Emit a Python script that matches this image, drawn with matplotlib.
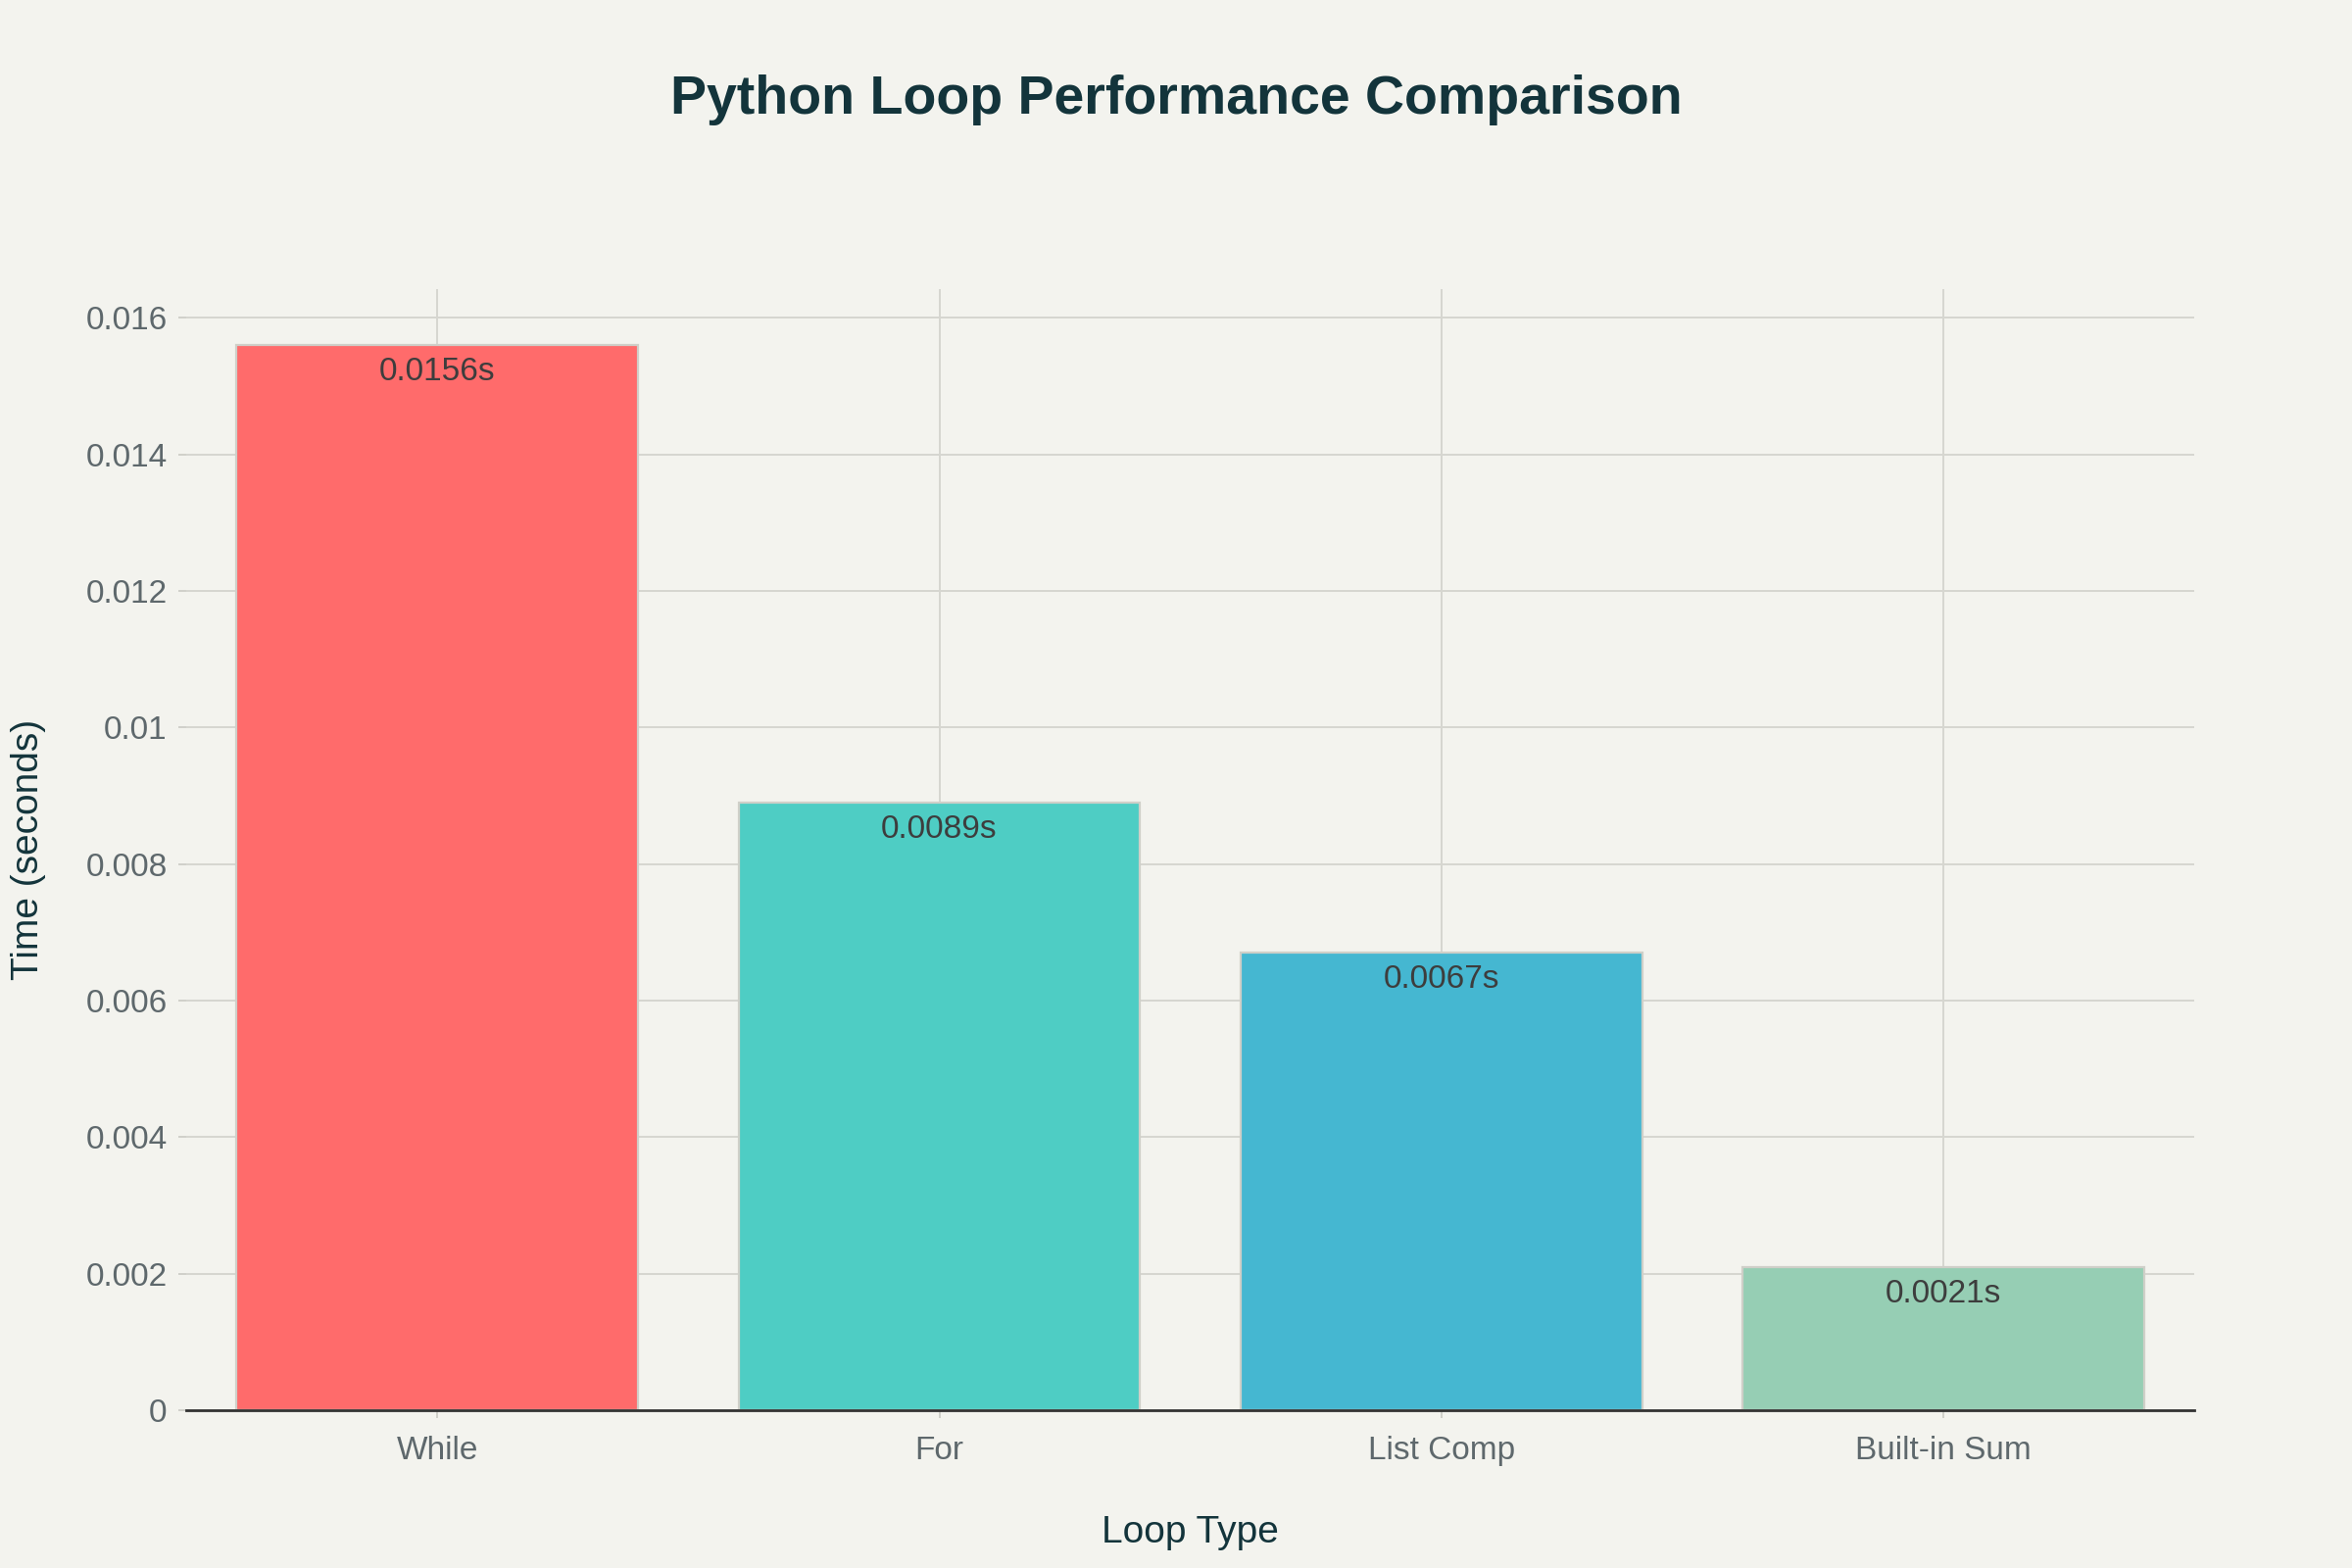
import matplotlib
matplotlib.use("Agg")
import matplotlib.pyplot as plt

categories = ["While", "For", "List Comp", "Built-in Sum"]
times = [0.0156, 0.0089, 0.0067, 0.0021]
bar_labels = ["0.0156s", "0.0089s", "0.0067s", "0.0021s"]
colors = ["#FF6B6B", "#4ECDC4", "#45B7D1", "#96CEB4"]
ytick_vals = [0, 0.002, 0.004, 0.006, 0.008, 0.01, 0.012, 0.014, 0.016]
ytick_labels = ["0", "0.002", "0.004", "0.006", "0.008", "0.01", "0.012", "0.014", "0.016"]

plt.rcParams["font.family"] = ["Liberation Sans", "DejaVu Sans"]
bg = "#F3F3EE"
fig = plt.figure(figsize=(12, 8), dpi=200, facecolor=bg)
ax = fig.add_axes([0.0792, 0.1007, 0.8538, 0.7149], facecolor=bg)

x = list(range(len(categories)))
ax.bar(x, times, width=0.8, color=colors, edgecolor="#cfcfc8", linewidth=0.8, zorder=3)
for xi, v, lab in zip(x, times, bar_labels):
    ax.annotate(lab, (xi, v), xytext=(0, -10), textcoords="offset points",
                ha="center", va="center", fontsize=12, color="#3d3d3d", zorder=4)

ax.set_xlim(-0.5, 3.5)
ax.set_ylim(0, 0.016418)
ax.set_xticks(x)
ax.set_xticklabels(categories)
ax.set_yticks(ytick_vals)
ax.set_yticklabels(ytick_labels)

ax.grid(True, color="#d6d6d0", linewidth=0.7, zorder=0)
for s in ["top", "right", "left"]:
    ax.spines[s].set_visible(False)
ax.spines["bottom"].set_color("#333333")
ax.spines["bottom"].set_linewidth(1.0)
ax.spines["bottom"].set_zorder(5)

ax.tick_params(axis="both", colors="#d0d0ca", labelcolor="#5e686c", labelsize=12, length=3, width=0.7)
ax.tick_params(axis="x", pad=6.5)
ax.tick_params(axis="y", pad=4)

ax.set_xlabel("Loop Type", fontsize=14, color="#13343B", labelpad=18)
ax.set_ylabel("Time (seconds)", fontsize=14, color="#13343B", labelpad=14.5)

fig.suptitle("Python Loop Performance Comparison", fontsize=20, fontweight="bold",
             color="#13343B", y=0.936, va="center")

fig.savefig("out.png", dpi=200, facecolor=bg)
